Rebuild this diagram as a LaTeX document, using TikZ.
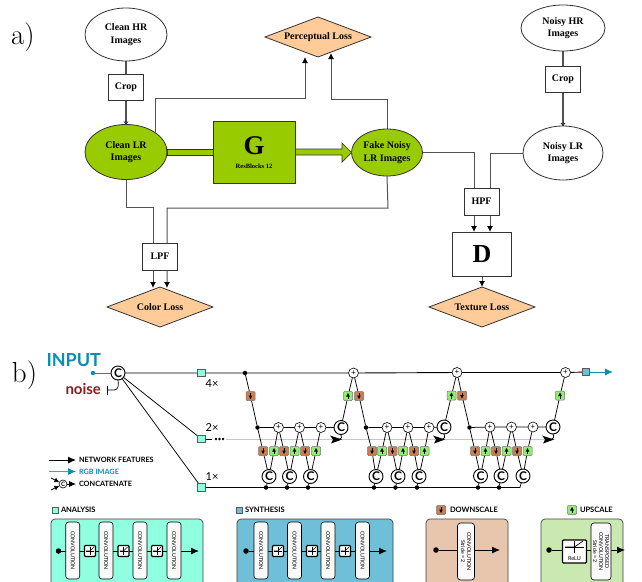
\documentclass[tikz,border=0pt]{standalone}
\usepackage{fontspec}
\usetikzlibrary{arrows.meta,shapes.geometric,calc}
\setmainfont{Liberation Serif}
\newfontfamily\lato{Lato}
\newfontfamily\lmr{Latin Modern Roman}
\definecolor{lrgreen}{HTML}{99CC00}
\definecolor{lossor}{HTML}{FFCC99}
\definecolor{rgbteal}{HTML}{0A8FB0}
\definecolor{noisered}{HTML}{8E1A1A}
\definecolor{anaC}{HTML}{8FFFE0}
\definecolor{synC}{HTML}{6FBFD8}
\definecolor{downC}{HTML}{E8C5AD}
\definecolor{upC}{HTML}{C9E9B0}
\definecolor{dblock}{HTML}{C97F50}
\definecolor{ublock}{HTML}{90EE70}
\definecolor{edgeg}{HTML}{333333}
\pgfdeclarelayer{bg}
\pgfsetlayers{bg,main}
\tikzset{
  every node/.style={inner sep=0pt,outer sep=0pt},
  ell/.style={ellipse,draw=edgeg,line width=.8pt,fill=white,align=center,font=\bfseries\fontsize{10}{12.5}\selectfont},
  gell/.style={ell,fill=lrgreen},
  sqbox/.style={rectangle,draw=edgeg,line width=.8pt,fill=white,font=\bfseries\fontsize{10}{11}\selectfont},
  loss/.style={diamond,aspect=2.65,draw=edgeg,line width=.8pt,fill=lossor,minimum width=106pt,minimum height=40pt,font=\bfseries\fontsize{10}{11}\selectfont},
  ahead/.style={draw=edgeg!85,line width=1pt,-{Latex[length=6pt,width=6pt,color=black]}},
  thickg/.style={draw=edgeg!85,line width=2.6pt},
  openend/.style={-{Triangle[open,length=3pt,width=5pt,line width=.6pt]}},
  greenarrow/.style={draw=edgeg,fill=lrgreen,line width=.7pt},
  net/.style={black,line width=.75pt},
  plusn/.style={circle,draw=black,line width=.6pt,fill=white,minimum size=10pt,font=\lato\fontsize{8}{8}\selectfont},
  cn/.style={circle,draw=black,line width=.9pt,fill=white,minimum size=14pt,font=\lato\bfseries\fontsize{12}{12}\selectfont},
  dot/.style={circle,fill=black,minimum size=4.5pt},
  bigdot/.style={circle,fill=black,minimum size=5.5pt},
  dblk/.style={rectangle,rounded corners=1pt,draw=black!55,line width=.5pt,fill=dblock,minimum size=9pt},
  ublk/.style={rectangle,rounded corners=1pt,draw=black!55,line width=.5pt,fill=ublock,minimum size=9pt},
  asq/.style={rectangle,draw=black!65,line width=.8pt,fill=anaC,minimum size=7.5pt},
  ssq/.style={rectangle,draw=black!65,line width=.8pt,fill=synC,minimum size=7.5pt},
  lab/.style={font=\lato\bfseries\fontsize{7.3}{8}\selectfont},
  hdr/.style={anchor=west,font=\lato\bfseries\fontsize{7.5}{8}\selectfont},
  times/.style={font=\lato\fontsize{11}{11}\selectfont},
  panel/.style={rectangle,rounded corners=4pt,draw=black!75,line width=.7pt},
  conv/.style={rectangle,rounded corners=3pt,draw=black,line width=.6pt,fill=white!95!gray,minimum height=57pt},
  convt/.style={rotate=-90,align=center,font=\lato\fontsize{5.3}{6}\selectfont},
  act/.style={rectangle,rounded corners=1pt,draw=black,line width=1.1pt,fill=white,minimum size=11pt},
  flow/.style={black,line width=.9pt,-{Latex[length=8pt,width=7pt]}},
}
\newcommand{\dmark}[2]{\draw[black,line width=.7pt] (#1,#2-3) -- (#1,#2); \fill[black] (#1-1.8,#2-.5) -- (#1+1.8,#2-.5) -- (#1,#2+3) -- cycle;}
\newcommand{\umark}[2]{\draw[black,line width=.7pt] (#1,#2+3) -- (#1,#2); \fill[black] (#1-1.8,#2+.5) -- (#1+1.8,#2+.5) -- (#1,#2-3) -- cycle;}
\newcommand{\relu}[2]{%
  \draw[black,line width=.45pt] (#1-4,#2) -- (#1+4,#2) (#1,#2-4) -- (#1,#2+4);
  \draw[black,line width=.6pt] (#1-4,#2) -- (#1,#2) -- (#1+4,#2-4);}
\begin{document}
\begin{tikzpicture}[x=1pt,y=-1pt]
\useasboundingbox (0,0) rectangle (642,581);
\begin{pgfonlayer}{bg}
\fill[white] (0,0) rectangle (642,581);
\end{pgfonlayer}
% labels
\node[font=\lmr\fontsize{29}{29}\selectfont,anchor=base west] (la) at (11,44) {a)};
\node[font=\lmr\fontsize{29}{29}\selectfont,anchor=base west] (lb) at (12,382) {b)};
% part a nodes
\node[ell,minimum width=82pt,minimum height=53pt] (chr) at (126,34.5) {Clean HR\\Images};
\node[sqbox,minimum width=35pt,minimum height=26pt] (crop1) at (126,87) {Crop};
\node[gell,minimum width=82pt,minimum height=55pt] (clr) at (126,152) {Clean LR\\Images};
\node[rectangle,draw=edgeg,line width=.8pt,fill=lrgreen,minimum width=82pt,minimum height=62pt] (g) at (254,152) {};
\node[font=\bfseries\fontsize{27}{27}\selectfont] (gt) at (254,146) {G};
\node[font=\bfseries\fontsize{6.5}{7}\selectfont] (gs) at (254,166) {ResBlocks 12};
\node[gell,minimum width=71pt,minimum height=47pt] (fake) at (387,152.5) {Fake Noisy\\LR Images};
\node[ell,minimum width=84pt,minimum height=46pt] (nhr) at (563,28) {Noisy HR\\Images};
\node[sqbox,minimum width=35pt,minimum height=26pt] (crop2) at (563,79) {Crop};
\node[ell,minimum width=80pt,minimum height=54pt] (nlr) at (563,153) {Noisy LR\\Images};
\node[loss] (perc) at (318,37) {Perceptual Loss};
\node[sqbox,minimum width=35pt,minimum height=27pt] (hpf) at (481.5,201.5) {HPF};
\node[sqbox,minimum width=58.5pt,minimum height=44pt] (d) at (482,254.5) {\fontsize{26}{26}\selectfont D};
\node[loss] (tex) at (482,307) {Texture Loss};
\node[sqbox,minimum width=35pt,minimum height=27pt] (lpf) at (160,256.5) {LPF};
\node[loss] (col) at (160,307) {Color Loss};
% part a connectors
\begin{pgfonlayer}{bg}
\draw[thickg] (chr) -- (crop1);
\draw[thickg] (crop1) -- (clr);
\draw[thickg] (nhr) -- (crop2);
\draw[thickg] (crop2) -- (nlr);
\draw[greenarrow] (clr.east |- 0,149) -- (g.west |- 0,149) -- (g.west |- 0,155) -- (clr.east |- 0,155) -- cycle;
\draw[greenarrow] (g.east |- 0,149) -- (342,149) -- (342,143) -- (fake.west) -- (342,162) -- (342,155) -- (g.east |- 0,155) -- cycle;
\draw[ahead] (155,132) -- (155,98) -- (305,98) -- (305,57);
\draw[ahead] (fake.north) -- (387,99) -- (331,99) -- (331,53);
\draw[ahead] (fake.east) -- (474,152.5) -- (474,232);
\draw[ahead] (nlr.west) -- (490,153) -- (490,232);
\draw[ahead] (126,179) -- (126,207) -- (153,207) -- (153,288);
\draw[ahead] (fake.south) -- (388,208) -- (167,208) -- (167,288);
\draw[ahead] (d) -- (tex);
\end{pgfonlayer}
\draw[edgeg,openend,line width=.6pt] (126,121) -- (crop1 |- clr.north);
\draw[edgeg,openend,line width=.6pt] (563,122) -- (crop2 |- nlr.north);
% part b top text
\node[font=\lato\bfseries\fontsize{18}{18}\selectfont,text=rgbteal,anchor=west] (inp) at (46.5,360) {INPUT};
\node[font=\lato\bfseries\fontsize{15}{15}\selectfont,text=noisered,anchor=west] (noi) at (65.5,389) {noise};
\node[circle,fill=rgbteal,minimum size=4.5pt] (idot) at (93,373) {};
\node[cn] (c0) at (118,373) {C};
\node[asq] (a4) at (201.5,373) {};
\node[asq] (a2) at (201.5,439) {};
\node[asq] (a1) at (201.5,487.5) {};
\node[times] (x4) at (212,383.5) {4×};
\node[times] (x2) at (212,428) {2×};
\node[times] (x1) at (212,476.5) {1×};
\coordinate (nb) at (107,390);
\coordinate (endo) at (613,372);
\coordinate (bend) at (520,487.5);
% main nodes
\node[ssq] (outs) at (586,372) {};
\node[plusn] (pa) at (353.5,373) {+};
\node[plusn] (pb) at (457,372.5) {+};
\node[plusn] (pc) at (565.5,372.5) {+};
\node[dot] (t0) at (245,373) {};
\node[dot] (m1) at (257.5,427.5) {};
\node[dot] (m2) at (366,427.5) {};
\node[dot] (m3) at (469.5,427.5) {};
\foreach \n/\x/\y in {dt0/250.5/396,dt2/359/396,dt3/462/395.5,ad1/263/451,ad2/284/451,ad3/305/451,bd1/372/451,bd2/392.5/451,bd3/414/451,cd1/475/451,cd2/496/451,cd3/517/451}{
  \node[dblk] (\n) at (\x,\y) {}; \dmark{\x}{\y}}
\foreach \n/\x/\y in {ut2/348/396,ut3/451.5/395.5,ut4/560/395.5,au1/274/451,au2/294.5/451,au3/316/451,bu1/382/451,bu2/403/451,bu3/424.5/451,cu1/485.5/451,cu2/506.5/451,cu3/527.5/451}{
  \node[ublk] (\n) at (\x,\y) {}; \umark{\x}{\y}}
\foreach \n/\x/\y in {ap1/278.5/427.5,ap2/299.5/427.5,ap3/321/427.5,bp1/387/427.5,bp2/408/427.5,bp3/429/427.5,cp1/490/427,cp2/511.5/427,cp3/533/427}{
  \node[plusn] (\n) at (\x,\y) {+};}
\foreach \n/\x/\y in {ca/341/427.5,cb/444/427,cc/553/427,ac1/269/476.5,ac2/289.5/476.5,ac3/310.5/476.5,bc1/376/476.5,bc2/398/476.5,bc3/419/476.5,cc1/480.5/476,cc2/501/476,cc3/523/476}{
  \node[cn] (\n) at (\x,\y) {C};}
\foreach \n/\x in {b1/266,b2/287,b3/308,b4/374,b5/395.5,b6/417,b7/478,b8/499}{\node[dot] (\n) at (\x,487.5) {};}
\begin{pgfonlayer}{bg}
\draw[black!22,line width=.9pt] (226,439) -- (555,439);
\draw[black,line width=.9pt] (a2) -- (212,439);
\fill[black] (216,439) circle (1.3pt) (219.5,439) circle (1.3pt) (223,439) circle (1.3pt);
\draw[rgbteal,line width=.9pt] (idot) -- (c0);
\draw[black,line width=.7pt] (107,386) -- (107,395);
\draw[black,line width=.7pt] (nb) -- (114,390) .. controls (118,390) and (119,386) .. (c0.south);
\draw[net] (c0) -- (a2);
\draw[net] (c0) -- (a1);
\draw[net,line width=.9pt] (c0) -- (a4) -- (pa) -- (pb) -- (pc) -- (outs);
\draw[net,line width=.9pt] (a1) -- (bend);
\draw[net] (t0) -- (dt0) -- (m1) -- (ad1) -- (ac1);
\draw[net] (ac1) -- (au1) -- (ap1);
\draw[net] (ap1) -- (ad2) -- (ac2);
\draw[net] (ac2) -- (au2) -- (ap2);
\draw[net] (ap2) -- (ad3) -- (ac3);
\draw[net] (ac3) -- (au3) -- (ap3);
\draw[net] (m1) -- (ap1) -- (ap2) -- (ap3) -- (ca);
\draw[net] (ca) -- (ut2) -- (pa);
\draw[net] (pa) -- (dt2) -- (m2) -- (bd1) -- (bc1);
\draw[net] (bc1) -- (bu1) -- (bp1);
\draw[net] (bp1) -- (bd2) -- (bc2);
\draw[net] (bc2) -- (bu2) -- (bp2);
\draw[net] (bp2) -- (bd3) -- (bc3);
\draw[net] (bc3) -- (bu3) -- (bp3);
\draw[net] (m2) -- (bp1) -- (bp2) -- (bp3) -- (cb);
\draw[net] (cb) -- (ut3) -- (pb);
\draw[net] (pb) -- (dt3) -- (m3) -- (cd1) -- (cc1);
\draw[net] (cc1) -- (cu1) -- (cp1);
\draw[net] (cp1) -- (cd2) -- (cc2);
\draw[net] (cc2) -- (cu2) -- (cp2);
\draw[net] (cp2) -- (cd3) -- (cc3);
\draw[net] (cc3) -- (cu3) -- (cp3);
\draw[net] (m3) -- (cp1) -- (cp2) -- (cp3) -- (cc);
\draw[net] (cc) -- (ut4) -- (pc);
\draw[net] (b1) -- (ac1) (b2) -- (ac2) (b3) -- (ac3) (b4) -- (bc1) (b5) -- (bc2) (b6) -- (bc3) (b7) -- (cc1) (b8) -- (cc2);
\draw[net] (bend) -- (cc3);
\end{pgfonlayer}
\draw[rgbteal,line width=.9pt,-{Latex[length=8pt,width=7pt]}] (outs) -- (endo);
% rgb feed arrows
\foreach \x/\n in {330/ca,433/cb,542/cc}{
  \draw[black,line width=.8pt] (\x+8,439.5) .. controls (\x+12,439) and (\x+12,437) .. (\n.south);
  \fill[black] (\x,435.5) -- (\x+12,439.5) -- (\x+1,443.5) -- (\x+3,439.5) -- cycle;
}
% legend
\coordinate (l1a) at (49,460); \coordinate (l1b) at (76,460);
\coordinate (l2a) at (49,471.5); \coordinate (l2b) at (76,471.5);
\draw[flow] (l1a) -- (l1b);
\draw[rgbteal!80,line width=.9pt,-{Latex[length=8pt,width=7pt,color=rgbteal]}] (l2a) -- (l2b);
\node[lab,anchor=west] (t1) at (79,460) {NETWORK FEATURES};
\node[lab,anchor=west,text=rgbteal] (t2) at (79,471.5) {RGB IMAGE};
\node[lab,anchor=west] (t3) at (79,484) {CONCATENATE};
\node[circle,draw=black,line width=.6pt,fill=white,minimum size=8pt,font=\lato\bfseries\fontsize{6}{6}\selectfont] (lc) at (63,484) {C};
\coordinate (l3a) at (51,478); \coordinate (l3b) at (51,490);
\draw[black,line width=.7pt,-{Latex[length=5pt,width=5pt]}] (l3a) -- (lc);
\draw[black,line width=.7pt,-{Latex[length=5pt,width=5pt]}] (l3b) -- (lc);
\draw[black,line width=.8pt,-{Latex[length=7pt,width=6pt]}] (lc) -- (76,484);
% panels
\begin{scope}
\clip (0,0) rectangle (642,581);
\draw[panel,fill=anaC] (51,519) rectangle (203,600);
\draw[panel,fill=synC] (237,519) rectangle (393,600);
\draw[panel,fill=downC] (426,519) rectangle (508,600);
\draw[panel,fill=upC] (541,519) rectangle (623,600);
\end{scope}
\node[asq,minimum size=6pt] (ka) at (55.5,510) {};
\node[hdr] (ta) at (61,510) {ANALYSIS};
\node[ssq,minimum size=6pt] (ks) at (239.5,510) {};
\node[hdr] (ts) at (245,510) {SYNTHESIS};
\node[dblk] (kd) at (441,510) {};\dmark{441}{510}
\node[hdr] (td) at (450,510) {DOWNSCALE};
\node[ublk] (ku) at (572,510) {};\umark{572}{510}
\node[hdr] (tu) at (580,510) {UPSCALE};
% analysis and synthesis contents
\node[bigdot] (ad) at (58.5,551) {};
\coordinate (ae) at (199,551);
\draw[flow] (ad) -- (ae);
\node[bigdot] (sd) at (246,551) {};
\coordinate (se) at (387,551);
\draw[flow] (sd) -- (se);
\foreach \x in {72.7,106,140,174,261,294.5,328,362.5}{
  \node[conv,minimum width=14pt] at (\x,550.5) {};
  \node[convt] at (\x,550.5) {CONVOLUTION};}
\foreach \x in {90,123.5,157,278,312,345}{\node[act] at (\x,551) {}; \relu{\x}{551}}
% downscale
\node[bigdot] (dd) at (436,550) {};
\coordinate (de) at (500,550);
\draw[flow] (dd) -- (de);
\node[conv,minimum width=17pt] (dc) at (466,551.5) {};
\node[convt] (dct) at (466,551.5) {CONVOLUTION\\Stride = 2};
% upscale
\node[bigdot] (ud) at (549,550) {};
\coordinate (ue) at (625,550);
\draw[flow] (ud) -- (ue);
\node[act,minimum width=24pt,minimum height=23pt] (uc) at (574.5,551.5) {};
\draw[black,line width=.5pt] (565,547) -- (584,547) (574.5,541) -- (574.5,553);
\draw[black,line width=.7pt] (565,547) -- (574.5,547) -- (583,541);
\node[font=\lato\fontsize{5.5}{6}\selectfont] (ut) at (574.5,558.5) {ReLU};
\node[conv,minimum width=20pt] (uconv) at (601,551.5) {};
\node[convt] (uct) at (601,551.5) {TRANSPOSED\\CONVOLUTION\\Stride = 2};
\end{tikzpicture}
\end{document}
